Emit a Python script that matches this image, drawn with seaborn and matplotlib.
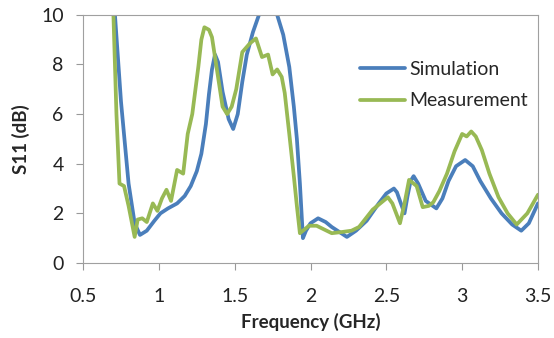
import numpy as np
import pandas as pd
import matplotlib.pyplot as plt
import seaborn as sns

# Simulation curve (GHz, dB)
sim_f = [0.68, 0.71, 0.75, 0.80, 0.84, 0.875, 0.92, 0.97, 1.01, 1.06, 1.12, 1.17, 1.21, 1.25,
         1.28, 1.31, 1.33, 1.35, 1.37, 1.39, 1.42, 1.46, 1.49, 1.52, 1.55, 1.58, 1.62, 1.66,
         1.70, 1.74, 1.78, 1.82, 1.86, 1.89, 1.91, 1.93, 1.95, 1.97, 2.00, 2.05, 2.10, 2.14,
         2.19, 2.24, 2.30, 2.37, 2.45, 2.50, 2.55, 2.57, 2.59, 2.62, 2.64, 2.66, 2.68, 2.71,
         2.76, 2.83, 2.87, 2.91, 2.96, 3.02, 3.07, 3.12, 3.19, 3.26, 3.33, 3.39, 3.44, 3.50]
sim_db = [12.0, 10.0, 6.5, 3.2, 1.6, 1.13, 1.3, 1.7, 2.0, 2.2, 2.4, 2.7, 3.1, 3.7,
          4.4, 5.6, 6.8, 7.8, 8.4, 8.1, 6.9, 5.8, 5.4, 6.0, 7.3, 8.4, 9.3, 10.0,
          10.4, 10.4, 10.0, 9.2, 7.9, 6.3, 5.0, 3.2, 1.0, 1.3, 1.6, 1.8, 1.65, 1.45,
          1.25, 1.05, 1.3, 1.7, 2.4, 2.8, 3.0, 2.85, 2.5, 2.0, 2.7, 3.3, 3.5, 3.2,
          2.5, 2.2, 2.6, 3.3, 3.9, 4.15, 3.9, 3.3, 2.6, 2.0, 1.55, 1.3, 1.6, 2.4]

# Measurement curve (GHz, dB)
meas_f = [0.68, 0.70, 0.72, 0.74, 0.77, 0.80, 0.84, 0.86, 0.89, 0.92, 0.96, 0.99, 1.02, 1.05,
          1.08, 1.12, 1.16, 1.19, 1.22, 1.26, 1.28, 1.30, 1.33, 1.35, 1.38, 1.42, 1.45, 1.48,
          1.51, 1.55, 1.60, 1.64, 1.68, 1.72, 1.75, 1.78, 1.81, 1.83, 1.86, 1.89, 1.91, 1.93,
          1.96, 1.99, 2.04, 2.09, 2.14, 2.21, 2.27, 2.32, 2.41, 2.47, 2.51, 2.54, 2.59, 2.62,
          2.65, 2.70, 2.74, 2.78, 2.81, 2.85, 2.90, 2.95, 3.00, 3.03, 3.06, 3.09, 3.13, 3.18,
          3.24, 3.30, 3.36, 3.43, 3.50]
meas_db = [12.0, 10.0, 6.0, 3.2, 3.1, 2.3, 1.05, 1.75, 1.8, 1.65, 2.4, 2.1, 2.6, 2.95,
           2.5, 3.75, 3.6, 5.2, 6.0, 7.9, 9.0, 9.5, 9.4, 9.1, 7.9, 6.3, 6.0, 6.3,
           7.0, 8.5, 8.85, 9.05, 8.3, 8.4, 7.6, 7.8, 7.5, 6.85, 5.2, 3.5, 2.3, 1.2,
           1.35, 1.5, 1.5, 1.35, 1.2, 1.25, 1.3, 1.45, 2.15, 2.45, 2.65, 2.4, 1.6, 2.4,
           3.35, 3.1, 2.25, 2.3, 2.45, 2.9, 3.6, 4.5, 5.2, 5.1, 5.3, 5.1, 4.55, 3.6,
           2.65, 2.0, 1.55, 2.0, 2.75]

sim = pd.DataFrame({'f': sim_f, 'db': sim_db, 'series': 'Simulation'})
meas = pd.DataFrame({'f': meas_f, 'db': meas_db, 'series': 'Measurement'})
df = pd.concat([sim, meas], ignore_index=True)

sns.set_style('white')
plt.rcParams['font.family'] = ['Lato', 'DejaVu Sans']

fig = plt.figure(figsize=(5.54, 3.38), dpi=100)
ax = fig.add_axes([0.150, 0.222, 0.821, 0.734])

sns.lineplot(data=df, x='f', y='db', hue='series', sort=False, estimator=None,
             palette={'Simulation': '#4a7ebb', 'Measurement': '#98b954'},
             linewidth=2.7, solid_joinstyle='round', solid_capstyle='round', ax=ax)

ax.set_xlim(0.5, 3.5)
ax.set_ylim(0, 10)
ax.set_xticks([0.5, 1, 1.5, 2, 2.5, 3, 3.5])
ax.set_xticklabels(['0.5', '1', '1.5', '2', '2.5', '3', '3.5'])
ax.set_yticks([0, 2, 4, 6, 8, 10])
ax.tick_params(axis='both', labelsize=14, colors='#222222', length=5, width=0.8,
               direction='out', bottom=True, left=True, color='#999999')
ax.tick_params(axis='x', pad=13)
ax.tick_params(axis='y', pad=9)
for s in ax.spines.values():
    s.set_color('#a0a0a0')
    s.set_linewidth(0.8)

ax.set_xlabel('Frequency (GHz)', fontsize=13.5, fontweight='bold', labelpad=6)
ax.set_ylabel('S11 (dB)', fontsize=13.5, fontweight='bold', labelpad=8)

leg = ax.legend(loc='upper left', bbox_to_anchor=(0.609, 0.815), frameon=False,
                fontsize=14, handlelength=2.3, handletextpad=0.25, labelspacing=0.75,
                borderpad=0, borderaxespad=0)

fig.savefig('out.png', dpi=100)
